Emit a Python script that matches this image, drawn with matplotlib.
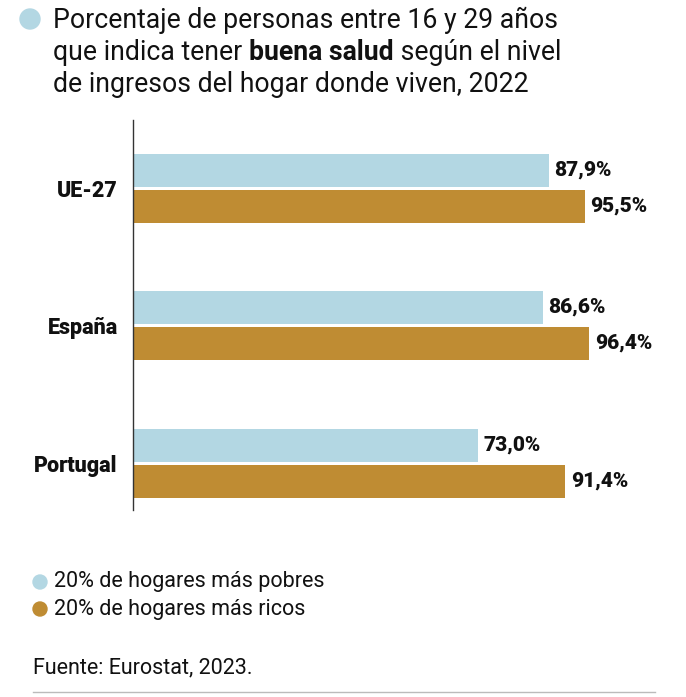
import matplotlib.pyplot as plt
from matplotlib.patches import Circle

# data
paises = ["UE-27", "España", "Portugal"]
pobres = [87.9, 86.6, 73.0]
ricos = [95.5, 96.4, 91.4]
etiquetas_pobres = ["87,9%", "86,6%", "73,0%"]
etiquetas_ricos = ["95,5%", "96,4%", "91,4%"]
serie_nombres = ["20% de hogares más pobres", "20% de hogares más ricos"]

azul = "#B3D7E3"
oro = "#BF8C33"
W, H = 686, 697

plt.rcParams['font.family'] = ['Roboto', 'DejaVu Sans']

fig = plt.figure(figsize=(W / 100, H / 100), dpi=100)

# main axes (pixel coords -> figure fraction)
x0, x1 = 133, 606
y0, y1 = 120, 510
ax = fig.add_axes([x0 / W, 1 - y1 / H, (x1 - x0) / W, (y1 - y0) / H])

unit = 137.5
off = 18 / unit
bh = 33 / unit
pos = list(range(len(paises)))
ax.barh([p - off for p in pos], pobres, height=bh, color=azul)
ax.barh([p + off for p in pos], ricos, height=bh, color=oro)

for p, v, t in zip(pos, pobres, etiquetas_pobres):
    ax.text(v + 1.2, p - off, t, va='center', ha='left', fontsize=15,
            fontweight='heavy', color='#111111')
for p, v, t in zip(pos, ricos, etiquetas_ricos):
    ax.text(v + 1.2, p + off, t, va='center', ha='left', fontsize=15,
            fontweight='heavy', color='#111111')

ax.set_xlim(0, 100)
ax.set_ylim(-0.495 + (y1 - y0) / unit, -0.495)
ax.set_yticks(pos)
ax.set_yticklabels(paises, fontsize=15.5, fontweight='heavy', color='#111111')
ax.tick_params(axis='y', length=0, pad=11)
ax.set_xticks([])
for s in ['top', 'right', 'bottom']:
    ax.spines[s].set_visible(False)
ax.spines['left'].set_color('#333333')
ax.spines['left'].set_linewidth(1.0)

# overlay axes in pixel space for title, legend, footer
ov = fig.add_axes([0, 0, 1, 1], zorder=-1)
ov.set_xlim(0, W)
ov.set_ylim(H, 0)
ov.axis('off')

ov.add_patch(Circle((30, 19), 10, color=azul))
tfs = 19.2
ov.text(53, 20, "Porcentaje de personas entre 16 y 29 años", fontsize=tfs,
        va='center', ha='left', color='#111111')
t1 = ov.text(53, 52, "que indica tener ", fontsize=tfs, va='center', ha='left',
             color='#111111')
t2 = ov.annotate("buena salud", xycoords=t1, xy=(1, 0), va='bottom', ha='left',
                 fontsize=tfs, fontweight='bold', color='#111111')
ov.annotate(" según el nivel", xycoords=t2, xy=(1, 0), va='bottom', ha='left',
            fontsize=tfs, color='#111111')
ov.text(53, 84, "de ingresos del hogar donde viven, 2022", fontsize=tfs,
        va='center', ha='left', color='#111111')

# legend
for yy, c, lab in zip([582, 609], [azul, oro], serie_nombres):
    ov.add_patch(Circle((40, yy), 7, color=c))
    ov.text(54, yy, lab, fontsize=15.5, va='center', ha='left', color='#111111')

ov.text(33, 668, "Fuente: Eurostat, 2023.", fontsize=15.5, va='center', ha='left',
        color='#111111')
ov.plot([33, 655], [692, 692], color='#BBBBBB', lw=1)

fig.savefig("out.png", dpi=100)
